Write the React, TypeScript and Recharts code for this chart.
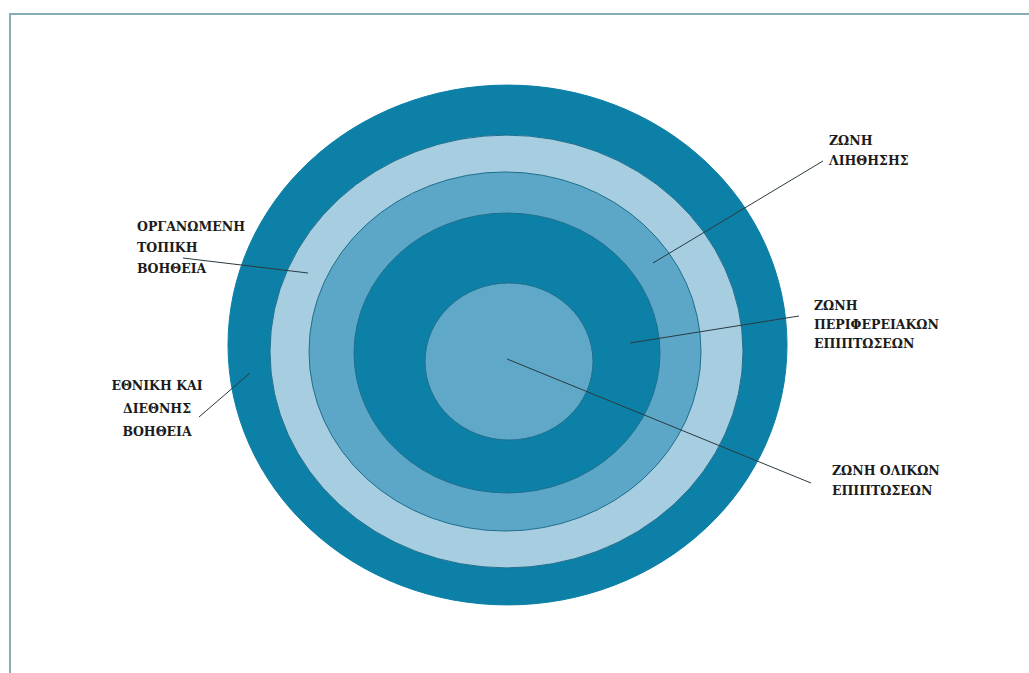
import { PieChart, Pie, Cell } from 'recharts'

// zones, from the outermost ring to the centre
const zones = [
  'ΕΘΝΙΚΗ ΚΑΙ ΔΙΕΘΝΗΣ ΒΟΗΘΕΙΑ',
  'ΟΡΓΑΝΩΜΕΝΗ ΤΟΠΙΚΗ ΒΟΗΘΕΙΑ',
  'ΖΩΝΗ ΛΙΗΘΗΣΗΣ',
  'ΖΩΝΗ ΠΕΡΙΦΕΡΕΙΑΚΩΝ ΕΠΙΠΤΩΣΕΩΝ',
  'ΖΩΝΗ ΟΛΙΚΩΝ ΕΠΙΠΤΩΣΕΩΝ',
]
const zoneShares = [1, 1, 1, 1, 1]
const labelLines = [
  ['ΕΘΝΙΚΗ ΚΑΙ', 'ΔΙΕΘΝΗΣ', 'ΒΟΗΘΕΙΑ'],
  ['ΟΡΓΑΝΩΜΕΝΗ', 'ΤΟΠΙΚΗ', 'ΒΟΗΘΕΙΑ'],
  ['ΖΩΝΗ', 'ΛΙΗΘΗΣΗΣ'],
  ['ΖΩΝΗ', 'ΠΕΡΙΦΕΡΕΙΑΚΩΝ', 'ΕΠΙΠΤΩΣΕΩΝ'],
  ['ΖΩΝΗ ΟΛΙΚΩΝ', 'ΕΠΙΠΤΩΣΕΩΝ'],
]

const COLORS = ['#0c80a7', '#a7cde0', '#5ca7c7', '#0c80a7', '#5fa8c8']
const STROKES = ['#0c80a7', '#1f6f8c', '#1f6f8c', '#1f6f8c', '#1f6f8c']

// ring geometry (px): centre, horizontal radius, vertical squash
const rings = [
  { cx: 507.5, cy: 345, r: 279.5, squash: 0.93 },
  { cx: 506.5, cy: 351.5, r: 236.5, squash: 0.915 },
  { cx: 505, cy: 351.5, r: 196, squash: 0.916 },
  { cx: 507, cy: 353, r: 153, squash: 0.915 },
  { cx: 509, cy: 361.5, r: 84, squash: 0.935 },
]

// label placement: text anchor point, baselines, leader line
const labelPos = [
  { x: 157, anchor: 'middle', ys: [390, 413, 436], line: [199, 417, 250, 373] },
  { x: 137, anchor: 'start', ys: [231, 252, 273], line: [183, 258, 308, 273] },
  { x: 829, anchor: 'start', ys: [145, 165], line: [823, 161, 653, 263] },
  { x: 814, anchor: 'start', ys: [310, 329, 348], line: [799, 316, 630, 343] },
  { x: 832, anchor: 'start', ys: [475, 495], line: [811, 483, 507, 359] },
]

const ellipseShape = (squash: number, stroke: string) => (props: any) => (
  <ellipse
    cx={props.cx}
    cy={props.cy}
    rx={props.outerRadius}
    ry={props.outerRadius * squash}
    fill={props.fill}
    stroke={stroke}
    strokeWidth={1}
  />
)

export default function App() {
  return (
    <div style={{ position: 'fixed', left: 0, top: 0, width: 1029, height: 673, background: '#fff', overflow: 'hidden' }}>
      <div
        style={{
          position: 'absolute',
          left: 9,
          top: 13,
          width: 1060,
          height: 700,
          borderTop: '2px solid #86aeb4',
          borderLeft: '2px solid #86aeb4',
        }}
      />
      <div style={{ position: 'absolute', left: 0, top: 0 }}>
        <PieChart width={1029} height={673} margin={{ top: 0, right: 0, bottom: 0, left: 0 }}>
          {rings.map((g, i) => (
            <Pie
              key={i}
              data={[{ name: zones[i], value: zoneShares[i] }]}
              dataKey="value"
              cx={g.cx}
              cy={g.cy}
              innerRadius={0}
              outerRadius={g.r}
              startAngle={90}
              endAngle={-270}
              stroke="none"
              isAnimationActive={false}
              shape={ellipseShape(g.squash, STROKES[i])}
            >
              <Cell fill={COLORS[i]} />
            </Pie>
          ))}
        </PieChart>
      </div>
      <svg width={1029} height={673} style={{ position: 'absolute', left: 0, top: 0 }}>
        {labelPos.map((p, i) => (
          <g key={i}>
            <line x1={p.line[0]} y1={p.line[1]} x2={p.line[2]} y2={p.line[3]} stroke="#2b3a40" strokeWidth={1} />
            {labelLines[i].map((t, j) => (
              <text
                key={j}
                x={p.x}
                y={p.ys[j]}
                textAnchor={p.anchor as any}
                style={{ fontFamily: '"DejaVu Serif", serif', fontWeight: 700, fontSize: 12.5 }}
                fill="#1b1b1b"
              >
                {t}
              </text>
            ))}
          </g>
        ))}
      </svg>
    </div>
  )
}
